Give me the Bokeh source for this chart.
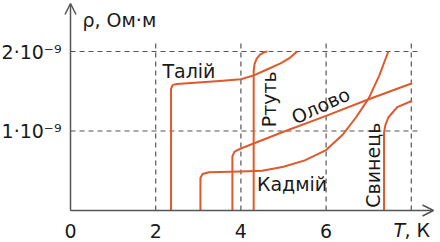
import math
from bokeh.plotting import figure
from bokeh.models import Arrow, OpenHead, FixedTicker
from bokeh.core.properties import value
from bokeh.embed import file_html
from bokeh.resources import INLINE

# ---------------- data (T in K, rho in 1e-9 Ohm*m) ----------------
thallium_T   = [2.36, 2.36, 2.40, 2.50, 3.0, 3.5, 4.0, 4.3, 4.6, 4.93, 5.15, 5.32]
thallium_rho = [0.0, 1.53, 1.58, 1.59, 1.61, 1.63, 1.65, 1.70, 1.77, 1.85, 1.92, 2.0]

mercury_T   = [4.30, 4.30, 4.32, 4.37, 4.45, 4.54, 4.62]
mercury_rho = [0.0, 1.75, 1.84, 1.91, 1.96, 1.99, 2.0]

tin_T   = [3.80, 3.80, 3.85, 4.0, 5.0, 6.0, 7.0, 8.02]
tin_rho = [0.0, 0.68, 0.74, 0.78, 0.99, 1.19, 1.40, 1.60]

cadmium_T   = [3.05, 3.05, 3.10, 3.25, 4.0, 4.5, 5.0, 5.5, 6.0, 6.4, 6.7, 7.0, 7.25, 7.46]
cadmium_rho = [0.0, 0.41, 0.46, 0.48, 0.49, 0.50, 0.55, 0.63, 0.76, 0.96, 1.17, 1.41, 1.70, 2.0]

lead_T   = [7.36, 7.36, 7.39, 7.46, 7.67, 8.02]
lead_rho = [0.0, 0.98, 1.07, 1.17, 1.30, 1.38]

x_ticks = [0, 2, 4, 6, 8]
x_tick_labels = ["0", "2", "4", "6", ""]
y_ticks = [1, 2]
y_tick_labels = ["1·10⁻⁹", "2·10⁻⁹"]

grid_x = [2, 4, 6, 8]
grid_y = [1, 2]

# ---------------- layout ----------------
W, H = 440, 242
X0_PX, Y0_PX = 70, 210          # pixel position of the origin
PX_PER_K, PX_PER_RHO = 42.6, 79.5

x_range = (-X0_PX / PX_PER_K, (W - X0_PX) / PX_PER_K)
y_range = (-(H - Y0_PX) / PX_PER_RHO, Y0_PX / PX_PER_RHO)

FONT = "DejaVu Sans"
CURVE = "#E0592A"
GRAY = "#555555"
TXT = "#1a1a1a"

p = figure(width=W, height=H, x_range=x_range, y_range=y_range,
           output_backend="svg", toolbar_location=None,
           min_border=0, min_border_left=0, min_border_right=0,
           min_border_top=0, min_border_bottom=0)
p.outline_line_color = None
p.xgrid.visible = False
p.ygrid.visible = False

# axes at data zero
for ax in (p.xaxis[0], p.yaxis[0]):
    ax.fixed_location = 0
    ax.axis_line_color = None
    ax.major_tick_line_color = None
    ax.minor_tick_line_color = None
    ax.major_label_text_font = FONT
    ax.major_label_text_font_size = "19px"
    ax.major_label_text_color = TXT

p.xaxis.ticker = FixedTicker(ticks=x_ticks)
p.xaxis.major_label_overrides = {t: s for t, s in zip(x_ticks, x_tick_labels)}
p.xaxis.major_label_standoff = 7
p.yaxis.ticker = FixedTicker(ticks=y_ticks)
p.yaxis.major_label_overrides = {t: s for t, s in zip(y_ticks, y_tick_labels)}
p.yaxis.major_label_standoff = 3

# dashed guide lines
gx_top = 2.10
gy_right = 8.17
p.segment(x0=grid_x, y0=[0] * len(grid_x), x1=grid_x, y1=[gx_top] * len(grid_x),
          line_color=GRAY, line_width=1.2, line_dash="5 4")
p.segment(x0=[0] * len(grid_y), y0=grid_y, x1=[gy_right] * len(grid_y), y1=grid_y,
          line_color=GRAY, line_width=1.2, line_dash="5 4")

# axis arrows
y_tip = (Y0_PX - 3) / PX_PER_RHO
x_tip = (433 - X0_PX) / PX_PER_K
p.add_layout(Arrow(x_start=0, y_start=0, x_end=0, y_end=y_tip,
                   line_color=GRAY, line_width=1.5,
                   end=OpenHead(size=11, line_color=GRAY, line_width=1.5)))
p.add_layout(Arrow(x_start=0, y_start=0, x_end=x_tip, y_end=0,
                   line_color=GRAY, line_width=1.5,
                   end=OpenHead(size=11, line_color=GRAY, line_width=1.5)))

# curves
for xs, ys in [(thallium_T, thallium_rho), (mercury_T, mercury_rho),
               (tin_T, tin_rho), (cadmium_T, cadmium_rho), (lead_T, lead_rho)]:
    p.line(xs, ys, line_color=CURVE, line_width=2, line_join="round")

def label(txt, x, y, angle=0.0, align="center", style="normal"):
    p.text(x=[x], y=[y], text=[txt], angle=angle,
           text_font=value(FONT), text_font_size="19px", text_color=TXT,
           text_align=align, text_baseline="middle", text_font_style=style)

label("Талій", 2.78, 1.76)
label("Ртуть", 4.65, 1.40, angle=math.pi / 2)
label("Олово", 5.87, 1.32, angle=0.43)
label("Кадмій", 5.20, 0.33)
label("Свинець", 7.09, 0.57, angle=math.pi / 2)
label("ρ, Ом·м", 0.28, 2.39, align="left")
label("T", 7.58, -0.24, align="left", style="italic")
label(", К", 7.84, -0.24, align="left")

open("out.html", "w").write(file_html(p, INLINE))
